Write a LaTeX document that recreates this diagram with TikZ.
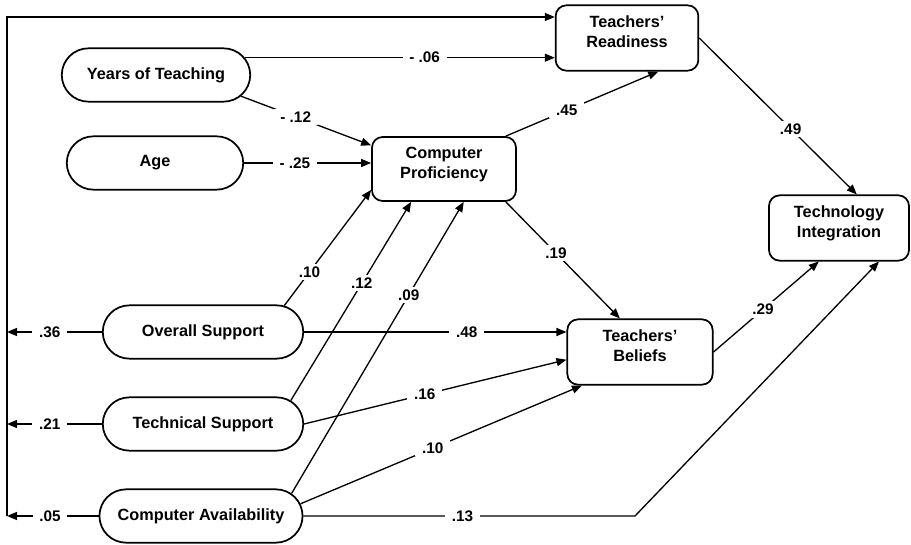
\documentclass[tikz,border=0pt]{standalone}
\usepackage{fontspec}
\setmainfont{Liberation Sans}
\usetikzlibrary{arrows.meta,shapes.misc}
\begin{document}
\begin{tikzpicture}[x=0.75pt,y=-0.75pt,
  oval/.style={draw,line width=1.3pt,rounded rectangle,minimum width=#1,minimum height=40pt,
    font=\bfseries\fontsize{12.2}{15}\selectfont},
  box/.style={draw,line width=1.3pt,rounded corners=8pt,align=center,minimum width=#1,minimum height=49pt,
    text depth=10pt,font=\bfseries\fontsize{12.2}{15}\selectfont},
  conn/.style={line width=1pt,-{Triangle[length=7.5pt,width=6pt]}},
  lbl/.style={fill=white,inner xsep=5pt,inner ysep=2pt,font=\bfseries\fontsize{11.5}{13}\selectfont}]
\useasboundingbox (0,0) rectangle (911,545);
% variables
\node[oval=148pt] (yt) at (156,75) {Years of Teaching};
\node[oval=139pt] (ag) at (155,163) {Age};
\node[oval=157pt] (os) at (203,332) {Overall Support};
\node[oval=157pt] (ts) at (203,424) {Technical Support};
\node[oval=159pt] (ca) at (201,516) {Computer Availability};
\node[box=108pt,minimum height=48pt] (cp) at (444,169) {Computer\\Proficiency};
\node[box=107pt] (tr) at (627,38) {Teachers'\\Readiness};
\node[box=109pt] (tb) at (640,352) {Teachers'\\Beliefs};
\node[box=105pt] (ti) at (839,228) {Technology\\Integration};
\coordinate (bus) at (7,17);
\coordinate (bend) at (635,516);
% paths
\draw[conn] (bus |- ca.west) -- (bus) -- (bus -| tr.west);
\draw[conn] (os.west) -- node[lbl,pos=0.55]{.36} (os.west -| bus);
\draw[conn] (ts.west) -- node[lbl,pos=0.55]{.21} (ts.west -| bus);
\draw[conn] (ca.west) -- node[lbl,pos=0.53]{.05} (ca.west -| bus);
\draw[conn] (yt.11) -- node[lbl,pos=0.58]{- .06} (yt.11 -| tr.west);
\draw[conn] (yt.-14) -- node[lbl,pos=0.42]{- .12} (cp.162);
\draw[conn] (ag.east) -- node[lbl,pos=0.4]{- .25} (ag.east -| cp.west);
\draw[conn] (cp.28) -- node[lbl,pos=0.4]{.45} (tr.-47);
\draw[conn] (tr.east) -- node[lbl,pos=0.58]{.49} (ti.62);
\draw[conn] (cp.-28) -- node[lbl,pos=0.44]{.19} (tb.121);
\draw[conn] (tb.east) -- node[lbl,pos=0.47]{.29} (ti.-121);
\draw[conn] (os.18) -- node[lbl,pos=0.29]{.10} (cp.196);
\draw[conn] (ts.15) -- node[lbl,pos=0.59]{.12} (cp.225);
\draw[conn] (ca.14) -- node[lbl,pos=0.68]{.09} (cp.-59);
\draw[conn] (os.east) -- node[lbl,pos=0.62]{.48} (os.east -| tb.west);
\draw[conn] (ts.east) -- node[lbl,pos=0.46]{.16} (tb.186);
\draw[conn] (ca.7) -- node[lbl,pos=0.47]{.10} (tb.210);
\draw[conn] (ca.east) -- node[lbl,pos=0.48]{.13} (bend) -- (ti.-40);
\end{tikzpicture}
\end{document}
